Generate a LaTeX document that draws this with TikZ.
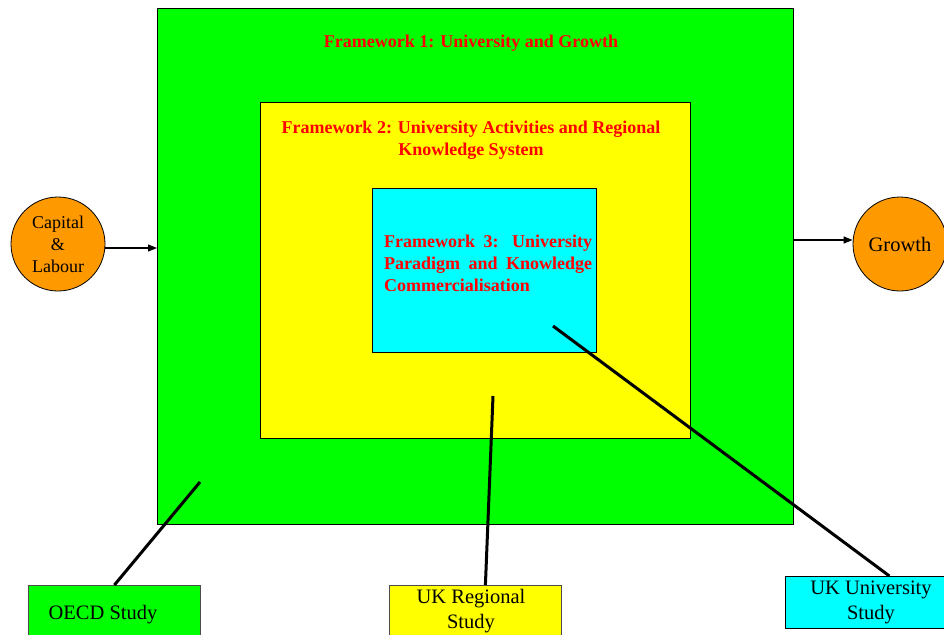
\documentclass[tikz,border=0pt]{standalone}
\usepackage{fontspec}
\setmainfont{Liberation Serif}
\usetikzlibrary{arrows.meta}
\definecolor{boxgreen}{HTML}{00FF00}
\definecolor{boxyellow}{HTML}{FFFF00}
\definecolor{boxcyan}{HTML}{00FFFF}
\definecolor{ballorange}{HTML}{FF9900}
\definecolor{titlered}{HTML}{FF0000}
\begin{document}
\begin{tikzpicture}[x=1pt,y=-1pt,
  frame/.style={draw=black, line width=0.8pt, anchor=north west, inner sep=0pt},
  ball/.style={circle, draw=black, line width=0.8pt, fill=ballorange, minimum size=94pt, inner sep=0pt, align=center},
  heading/.style={text=titlered, font=\fontsize{18}{22}\selectfont\bfseries, inner sep=0pt, align=center},
  studybox/.style={draw=black!70, line width=0.8pt, anchor=north west, inner sep=0pt},
  studytext/.style={font=\fontsize{20.5}{25}\selectfont, inner sep=0pt, align=center},
  feed/.style={line width=1.2pt, -{Triangle[length=9pt,width=7pt]}},
  link/.style={line width=3pt}
]
\useasboundingbox (0,0) rectangle (944,634);

% nested frameworks
\node[frame, fill=boxgreen, minimum width=636pt, minimum height=516pt] (fw1) at (157,8) {};
\node[frame, fill=boxyellow, minimum width=430pt, minimum height=336pt] (fw2) at (260,102) {};
\node[frame, fill=boxcyan, minimum width=224pt, minimum height=164pt] (fw3) at (372,188) {};

\node[heading] (t1) at (471,43) {Framework 1: University and Growth};
\node[heading] (t2) at (471,140) {Framework 2: University Activities and Regional\\Knowledge System};
\node[heading, align=left, anchor=west] (t3) at (384,263)
  {\makebox[208pt][s]{Framework 3: University}\\
   \makebox[208pt][s]{Paradigm and Knowledge}\\
   Commercialisation};

% inputs and outputs
\node[ball, font=\fontsize{18}{22}\selectfont] (cap) at (58,244) {Capital\\\&\\Labour};
\node[ball, font=\fontsize{20.5}{24}\selectfont] (grow) at (900,244) {Growth};
\draw[feed] ([yshift=-4pt]cap.east) -- ([yshift=-4pt]cap.east -| fw1.west);
\draw[feed] ([yshift=4pt]grow.west -| fw1.east) -- ([yshift=4pt]grow.west);

% studies
\node[studybox, fill=boxgreen, minimum width=172pt, minimum height=60pt] (oecd) at (28,585) {};
\node[studytext] (oecdt) at (103,615) {OECD Study};
\node[studybox, fill=boxyellow, minimum width=172pt, minimum height=60pt] (ukr) at (389,585) {};
\node[studytext] (ukrt) at (471,611) {UK Regional\\Study};
\node[studybox, draw=black, fill=boxcyan, minimum width=160pt, minimum height=52pt] (uku) at (785,576) {};
\node[studytext] (ukut) at (871,602) {UK University\\Study};

% study links into the frameworks
\coordinate (in1) at (200,482);
\coordinate (in2) at (493,396);
\coordinate (in3) at (553,326);
\draw[link] (oecd.north) -- (in1);
\draw[link] ([xshift=10pt]ukr.north) -- (in2);
\draw[link] ([xshift=24pt]uku.north) -- (in3);
\end{tikzpicture}
\end{document}
